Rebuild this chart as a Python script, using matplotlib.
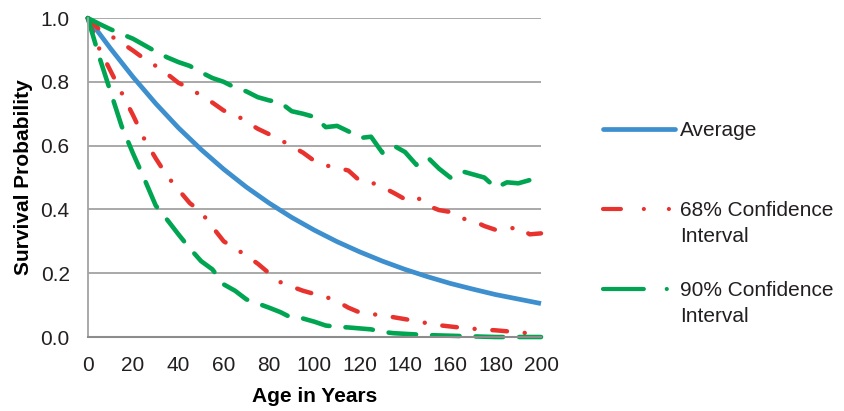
import matplotlib
matplotlib.use("Agg")
import matplotlib.pyplot as plt
from matplotlib.lines import Line2D

# ages for the average curve (10 yr steps) and the interval curves (5 yr steps)
age_avg = list(range(0, 201, 10))
avg = [1.000, 0.905, 0.815, 0.732, 0.656, 0.588, 0.526, 0.470, 0.420, 0.375,
       0.335, 0.299, 0.267, 0.238, 0.212, 0.189, 0.168, 0.150, 0.133, 0.119, 0.105]

age = list(range(0, 201, 5))
ci68_hi = [1.000, 0.965, 0.945, 0.922, 0.898, 0.872, 0.850, 0.825, 0.797, 0.780,
           0.757, 0.735, 0.710, 0.698, 0.675, 0.653, 0.636, 0.618, 0.598, 0.578,
           0.552, 0.538, 0.531, 0.522, 0.490, 0.485, 0.470, 0.452, 0.432, 0.440,
           0.412, 0.398, 0.392, 0.372, 0.365, 0.348, 0.336, 0.338, 0.345, 0.322, 0.325]
ci68_lo = [1.000, 0.905, 0.835, 0.765, 0.695, 0.620, 0.560, 0.505, 0.462, 0.420,
           0.392, 0.345, 0.300, 0.278, 0.255, 0.230, 0.200, 0.172, 0.158, 0.145,
           0.135, 0.126, 0.112, 0.092, 0.077, 0.072, 0.068, 0.062, 0.056, 0.050,
           0.043, 0.037, 0.033, 0.029, 0.026, 0.023, 0.021, 0.018, 0.014, 0.012, 0.010]
ci90_hi = [1.000, 0.982, 0.965, 0.950, 0.935, 0.915, 0.895, 0.877, 0.862, 0.850,
           0.830, 0.812, 0.800, 0.782, 0.770, 0.752, 0.742, 0.735, 0.708, 0.700,
           0.690, 0.658, 0.662, 0.645, 0.624, 0.628, 0.578, 0.600, 0.580, 0.540,
           0.563, 0.528, 0.500, 0.520, 0.510, 0.500, 0.468, 0.485, 0.482, 0.492, 0.462]
ci90_lo = [1.000, 0.880, 0.770, 0.660, 0.575, 0.495, 0.412, 0.368, 0.322, 0.278,
           0.238, 0.212, 0.165, 0.145, 0.118, 0.105, 0.092, 0.078, 0.060, 0.058,
           0.048, 0.036, 0.032, 0.030, 0.027, 0.024, 0.016, 0.012, 0.010, 0.008,
           0.006, 0.005, 0.004, 0.003, 0.002, 0.001, 0.000, 0.000, 0.000, 0.000, 0.000]

x_ticks = [0, 20, 40, 60, 80, 100, 120, 140, 160, 180, 200]
y_ticks = [0.0, 0.2, 0.4, 0.6, 0.8, 1.0]
legend_labels = ["Average", "68% Confidence", "90% Confidence"]

BLUE = "#3d8fce"
RED = "#e8322e"
GREEN = "#00a551"
TXT = "#231f20"

plt.rcParams["font.family"] = ["Liberation Sans", "DejaVu Sans"]
plt.rcParams["font.size"] = 15
plt.rcParams["text.color"] = TXT

fig = plt.figure(figsize=(8.44, 4.11), dpi=100)
ax = fig.add_axes([0.104, 0.180, 0.537, 0.776])

ax.plot(age_avg, avg, color=BLUE, lw=3.4, solid_capstyle="butt", clip_on=False)
red_dash = (3.3, 4.0, 0.01, 4.0)
green_dash = (6.0, 3.5)
for curve in (ci68_hi, ci68_lo):
    ax.plot(age, curve, color=RED, lw=3.2, dashes=red_dash,
            dash_capstyle="round", clip_on=False)
for curve in (ci90_hi, ci90_lo):
    ax.plot(age, curve, color=GREEN, lw=3.3, dashes=green_dash,
            dash_capstyle="round", clip_on=False)

ax.set_xlim(0, 200)
ax.set_ylim(0, 1.0)
ax.set_xticks(x_ticks)
ax.set_yticks(y_ticks)
ax.set_yticklabels([f"{v:.1f}" for v in y_ticks])
ax.tick_params(axis="both", length=0, labelsize=15, colors=TXT)
ax.tick_params(axis="x", pad=13.6)
ax.tick_params(axis="y", pad=13)
ax.grid(axis="y", color="#a3a3a3", lw=1.3)
ax.set_axisbelow(True)
for s in ("top", "right"):
    ax.spines[s].set_visible(False)
ax.spines["left"].set_color("#a3a3a3")
ax.spines["left"].set_linewidth(1.3)
ax.spines["bottom"].set_color("#8c8c8c")
ax.spines["bottom"].set_linewidth(1.5)

ax.set_xlabel("Age in Years", fontsize=15, fontweight="bold", labelpad=8.5)
ax.set_ylabel("Survival Probability", fontsize=15, fontweight="bold", labelpad=5.5)

# legend handles drawn like the original key
handles = [
    Line2D([], [], color=BLUE, lw=3.4, solid_capstyle="round"),
    Line2D([], [], color=RED, lw=3.0, dashes=(4.3, 5.5, 0.01, 6, 0.01, 6),
           dash_capstyle="round"),
    Line2D([], [], color=GREEN, lw=3.0, dashes=(9.8, 5.5, 0.01, 6),
           dash_capstyle="round"),
]
leg = fig.legend(handles, legend_labels,
                 loc="upper left", bbox_to_anchor=(0.714, 0.706),
                 frameon=False, fontsize=15, handlelength=3.46,
                 handletextpad=0.24, labelspacing=2.94, borderpad=0,
                 borderaxespad=0)

# second line of the two interval labels, aligned under the first
fig.canvas.draw()
W, H = fig.bbox.width, fig.bbox.height
for t in leg.get_texts()[1:]:
    bb = t.get_window_extent()
    fig.text(bb.x0 / W, (bb.y0 - 25.5) / H, "Interval", fontsize=15,
             ha="left", va="bottom")

fig.savefig("out.png", dpi=100)
